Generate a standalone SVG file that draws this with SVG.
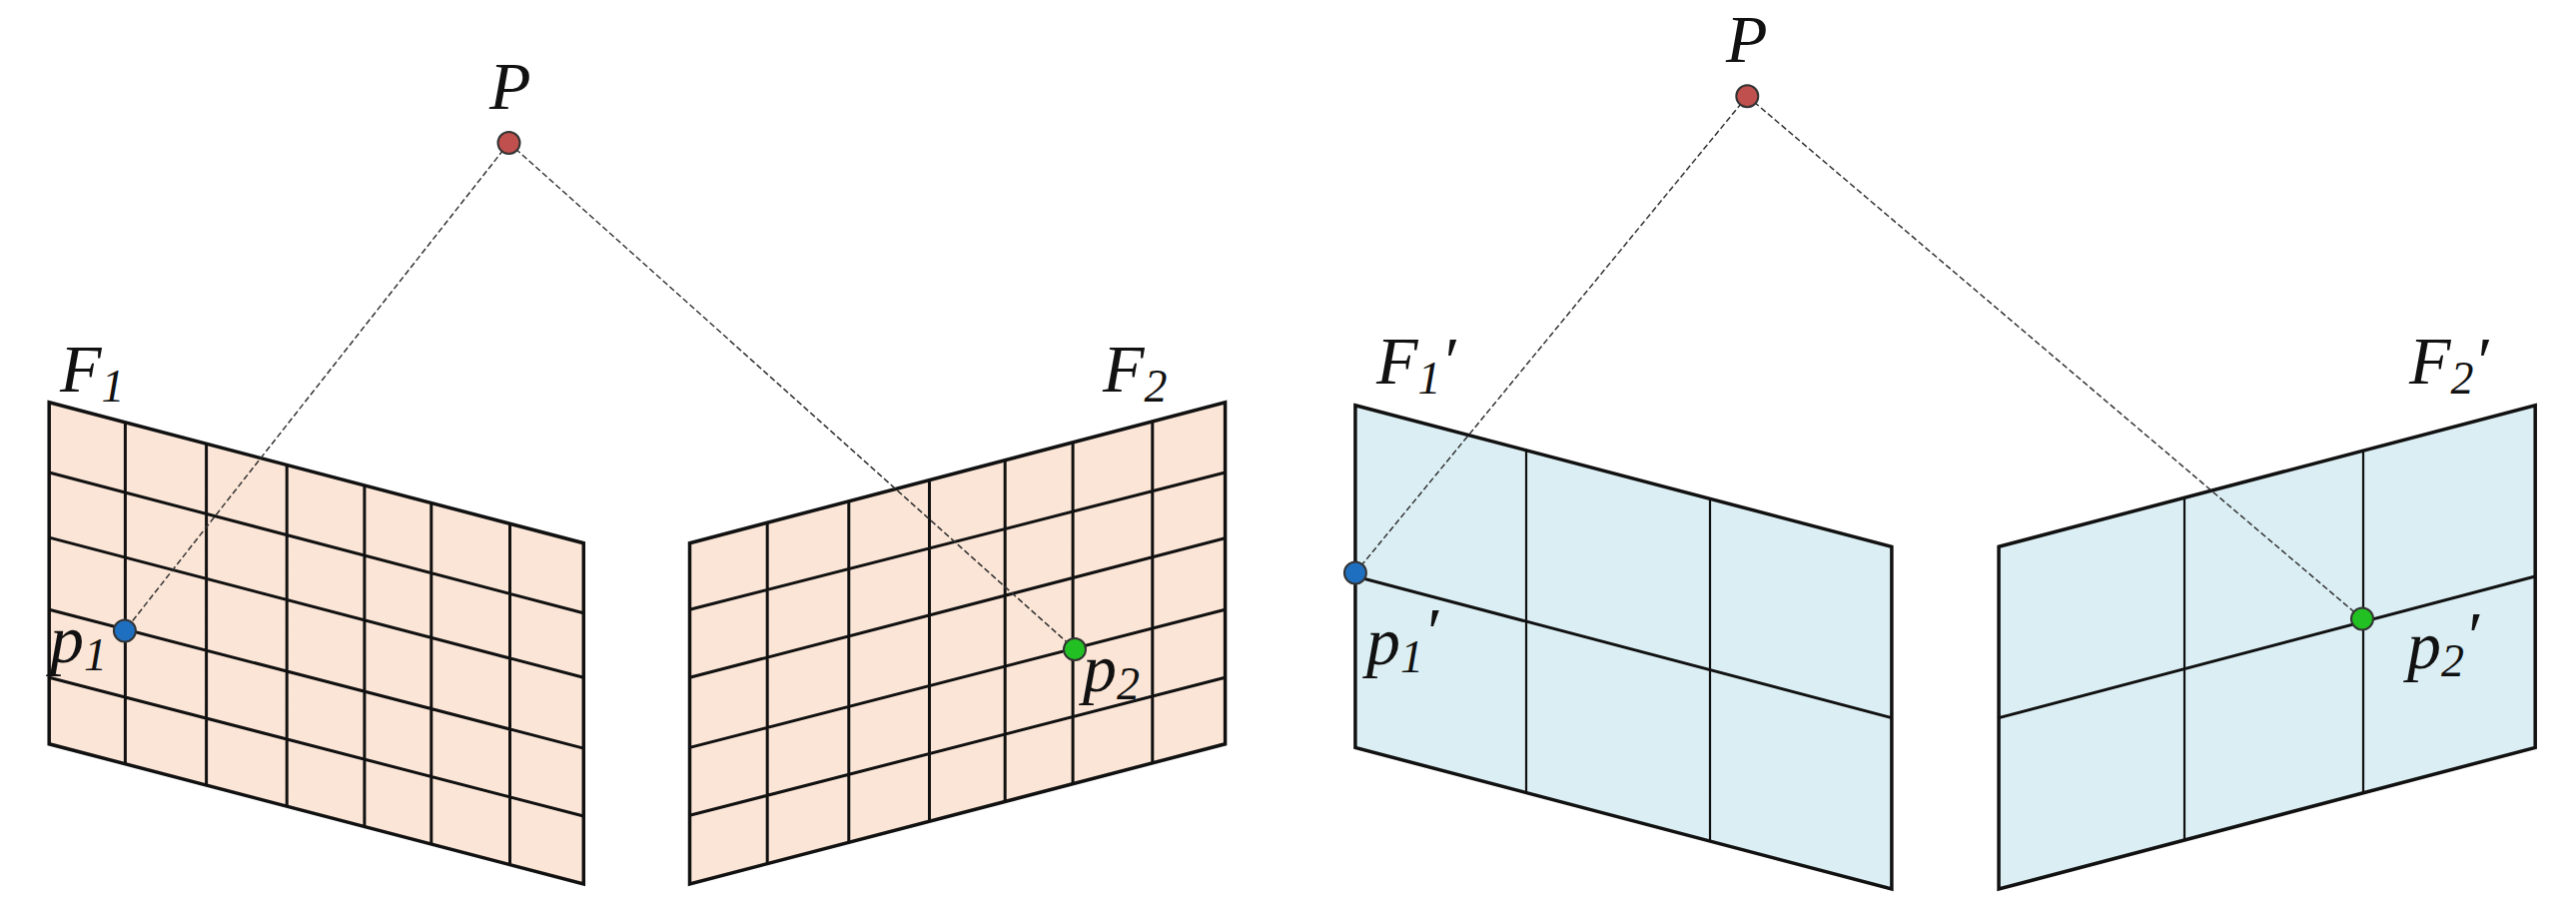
<svg xmlns="http://www.w3.org/2000/svg" width="2579" height="924" viewBox="0 0 2579 924">
<style>
.fr{stroke:#111;stroke-width:3.5;stroke-linejoin:miter}
.pe{fill:#fbe5d6}
.bl{fill:#daeef3}
.g{stroke:#111;stroke-width:3;fill:none}
.g2{stroke:#111;stroke-width:2.2;fill:none}
.c{stroke:#333;stroke-width:1.5;stroke-dasharray:6 3;fill:none}
.t{font-family:"Liberation Serif",serif;font-style:italic;font-size:68px;fill:#111}
.s{font-size:46px}
.d{stroke:#333;stroke-width:2}
</style>
<rect width="2579" height="924" fill="#fff"/>
<g id="F1">
<polygon class="fr pe" points="49.2,402.8 584.3,543.7 584.3,885 49.2,744.8"/>
<path class="g" d="M125.4,422.9V764.9M206.6,444.2V786.2M287.2,465.5V807.5M364.9,485.9V827.9M431.8,503.5V845.5M510.5,524.3V866.3M49.2,473L584.3,613.8M49.2,538.1L584.3,678.3M49.2,610.3L584.3,749.1M49.2,678.3L584.3,817"/>
<text class="t" x="60" y="392">F<tspan class="s" dy="10">1</tspan></text>
</g>
<g id="F2">
<polygon class="fr pe" points="690.5,543.7 1226.6,402.8 1226.6,744.8 690.5,885"/>
<path class="g" d="M768.2,523.3V864.6M849.8,501.8V843.1M930.5,480.6V821.9M1006.2,460.7V802M1074.1,442.9V784.2M1153.8,421.9V763.2M690.5,610.3L1226.6,473M690.5,678.3L1226.6,538.8M690.5,748.4L1226.6,610.3M690.5,816.3L1226.6,678.3"/>
<text class="t" x="1104" y="392">F<tspan class="s" dy="10">2</tspan></text>
</g>
<g id="F1p">
<polygon class="fr bl" points="1356.9,405.7 1893.9,547.3 1893.9,890 1356.9,748.4"/>
<path class="g2" d="M1528,450.8V793.5M1712,499.3V842"/>
<path class="g" d="M1356.9,577L1893.9,718.6"/>
<text class="t" x="1378" y="384">F<tspan class="s" dy="10">1</tspan><tspan dy="-10">′</tspan></text>
</g>
<g id="F2p">
<polygon class="fr bl" points="2001.1,547.3 2538.2,405.7 2538.2,748.4 2001.1,890"/>
<path class="g2" d="M2187,498.1V840.8M2366,450.8V793.5"/>
<path class="g" d="M2001.1,718.6L2538.2,577"/>
<text class="t" x="2412" y="384">F<tspan class="s" dy="10">2</tspan><tspan dy="-10">′</tspan></text>
</g>
<g id="connectors">
<path class="c" d="M509.5,143L124.9,631.5M509.5,143L1076,650M1749.3,96.3L1356.9,573.5M1749.3,96.3L2365,619.5"/>
</g>
<g id="P1"><circle class="d" cx="509.5" cy="143" r="11" fill="#c0504d"/><text class="t" x="490" y="109">P</text></g>
<g id="p1"><circle class="d" cx="124.9" cy="631.5" r="11" fill="#1f6fc0"/><text class="t" x="50" y="663">p<tspan class="s" dy="8">1</tspan></text></g>
<g id="p2"><circle class="d" cx="1076" cy="650" r="11" fill="#22c022"/><text class="t" x="1084" y="692">p<tspan class="s" dy="8">2</tspan></text></g>
<g id="P2"><circle class="d" cx="1749.3" cy="96.3" r="11" fill="#c0504d"/><text class="t" x="1728" y="62">P</text></g>
<g id="p1p"><circle class="d" cx="1356.9" cy="573.5" r="11" fill="#1f6fc0"/><text class="t" x="1368" y="665">p<tspan class="s" dy="8">1</tspan><tspan dy="-18">′</tspan></text></g>
<g id="p2p"><circle class="d" cx="2365" cy="619.5" r="11" fill="#22c022"/><text class="t" x="2410" y="669">p<tspan class="s" dy="8">2</tspan><tspan dy="-18">′</tspan></text></g>
</svg>
